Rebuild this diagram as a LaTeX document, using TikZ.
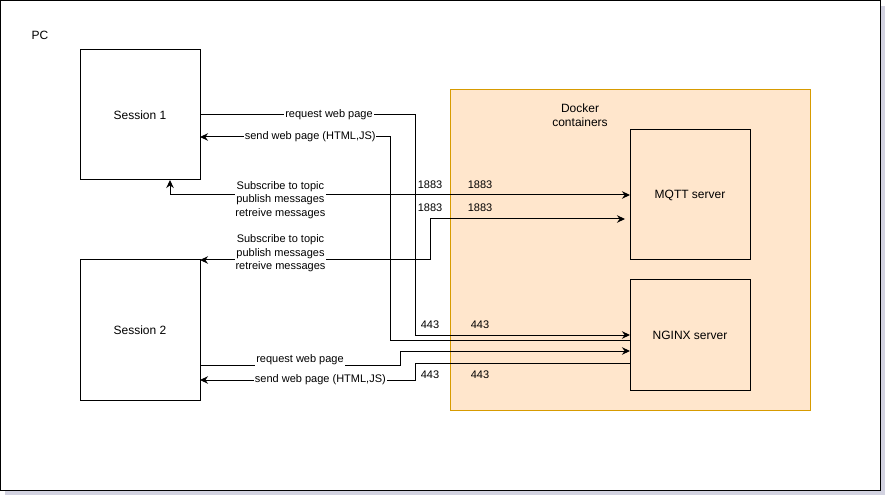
\documentclass[tikz,border=0pt]{standalone}
\usepackage{fontspec}
\setmainfont{Liberation Sans}
\usepackage{xcolor}
\usepackage{tikz}
\usetikzlibrary{arrows.meta,positioning,calc}

\definecolor{dockerfill}{HTML}{FFE6CC}
\definecolor{dockerline}{HTML}{D79B00}
\definecolor{shadowgray}{HTML}{D2D2E0}

\begin{document}
\begin{tikzpicture}[x=0.75pt,y=-0.75pt,>={Stealth[length=6pt,width=5.6pt]},line width=0.75pt,
    box/.style={draw,inner sep=0pt,outer sep=0pt,minimum width=90pt,font=\fontsize{9}{10.5}\selectfont},
    lbl/.style={fill=white,inner sep=0.6pt,font=\fontsize{8.25}{10}\selectfont},
    port/.style={inner sep=0pt,font=\fontsize{8.25}{10}\selectfont}]
    \useasboundingbox (0,0) rectangle (892,502);
    % PC frame with its shadow
    \fill[shadowgray] (5,6) rectangle (885,495);
    \node[draw,fill=white,inner sep=0pt,outer sep=0pt,minimum width=660pt,minimum height=367.5pt] (pc) at (440.5,245.5) {};
    \node[inner sep=0pt,font=\fontsize{9}{10.5}\selectfont] (pclbl) at (40,35) {PC};
    % Docker area
    \node[draw=dockerline,fill=dockerfill,inner sep=0pt,outer sep=0pt,minimum width=270pt,minimum height=240pt] (docker) at (630,250) {};
    \node[align=center,inner sep=0pt,font=\fontsize{9}{10.7}\selectfont] (dockerlbl) at (580,115) {Docker\\containers};
    % sessions and servers
    \node[box,minimum height=97.5pt,fill=white] (s1) at (140,115) {Session 1};
    \node[box,minimum height=105pt,fill=white] (s2) at (140,330) {Session 2};
    \node[box,minimum height=97.5pt,fill=dockerfill] (mqtt) at (690,195) {MQTT server};
    \node[box,minimum height=82.5pt,fill=dockerfill] (nginx) at (690,335) {NGINX server};
    % columns where the lines turn
    \coordinate (colA) at (390,0);
    \coordinate (colB) at (400,0);
    \coordinate (colC) at (415,0);
    \coordinate (colD) at (430,0);
    % web pages
    \draw[->] (s1.east) -- node[lbl,pos=0.6]{request web page} (s1.east -| colC) |- (nginx.west);
    \draw[->] ($(nginx.west)+(0,5)$) -| ($(s1.east -| colA)+(0,22)$) -- node[lbl,pos=0.42]{send web page (HTML,JS)} ($(s1.east)+(0,22)$);
    \draw[->] ($(s2.east)+(0,35)$) -- node[lbl,pos=0.5,yshift=4pt]{request web page} ($(s2.east -| colB)+(0,35)$) |- ($(nginx.west)+(0,16)$);
    \draw[->] ($(nginx.west)+(0,28)$) -| ($(s2.east -| colC)+(0,50)$) -- node[lbl,pos=0.44]{send web page (HTML,JS)} ($(s2.east)+(0,50)$);
    % MQTT
    \draw[<->] ($(s1.south)+(30,0)$) |- node[lbl,pos=0.62,yshift=-3.75pt,align=center]{Subscribe to topic\\publish messages\\retreive messages} (mqtt.west);
    \draw[<->] (s2.north east) -- node[lbl,pos=0.35,yshift=4.9pt,align=center]{Subscribe to topic\\publish messages\\retreive messages} (s2.north east -| colD) |- ($(mqtt.west)+(-5,24)$);
    % ports
    \foreach \y/\p in {185/1883,208/1883,325/443,375/443} {
      \node[port] (pin\y) at (430,\y) {\p};
      \node[port] (pout\y) at (480,\y) {\p};
    }
\end{tikzpicture}
\end{document}
